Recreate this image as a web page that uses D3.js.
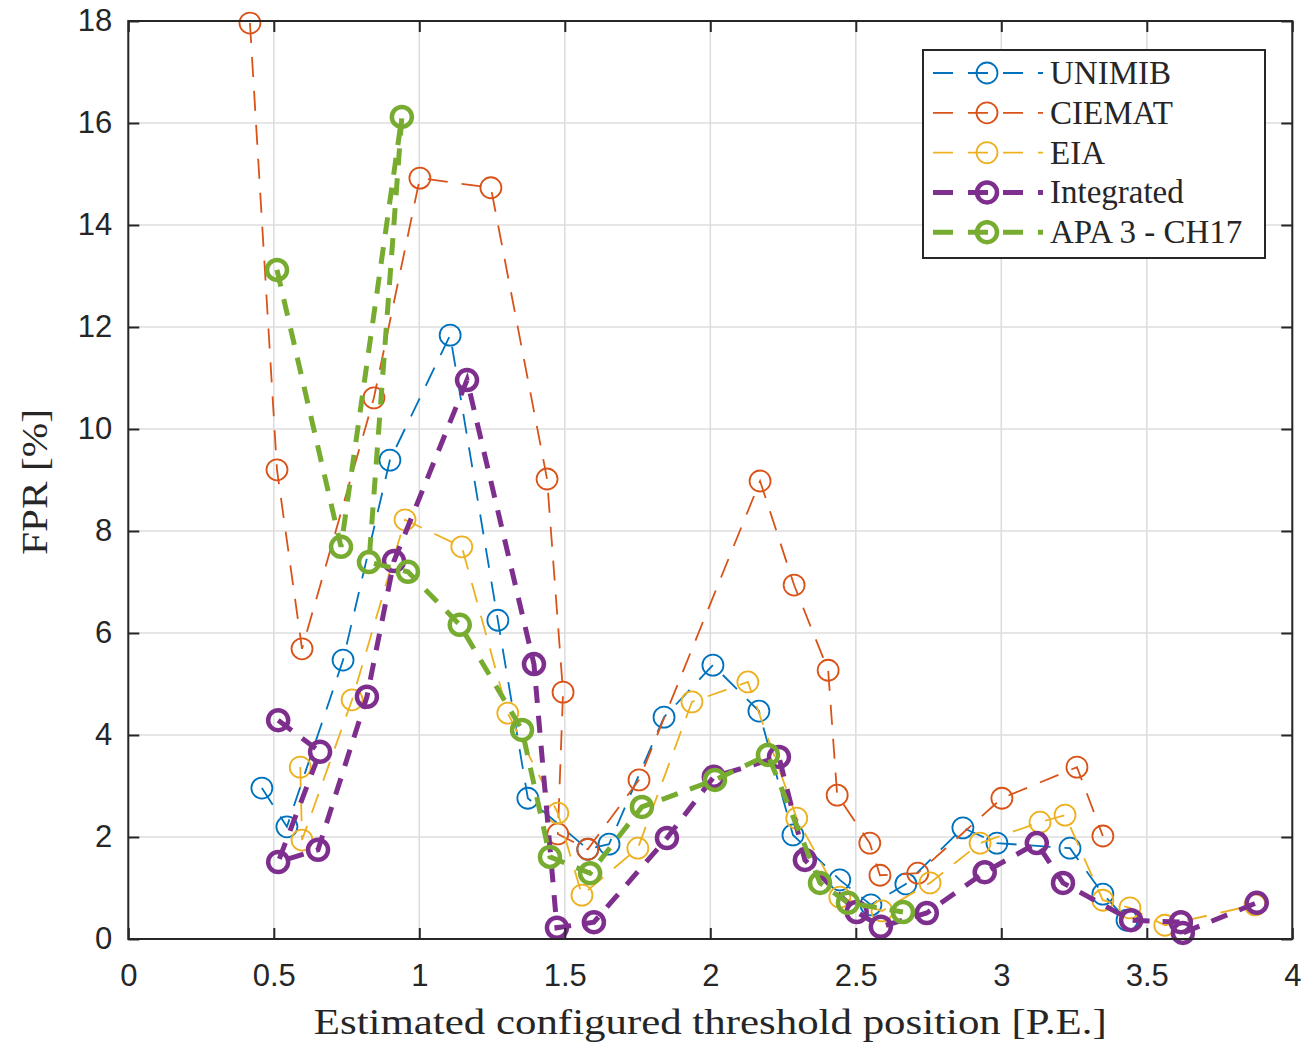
<!DOCTYPE html>
<html>
<head>
<meta charset="utf-8">
<script src="https://cdn.jsdelivr.net/npm/d3@7"></script>
<style>
  body { margin: 0; background: #fff; }
  svg { display: block; }
</style>
</head>
<body>
<div id="chart"></div>
<script>
(function() {

    // data (points kept in acquisition order, x is not monotonic)
    const unimibX = [0.459, 0.545, 0.738, 0.899, 1.106, 1.270, 1.373, 1.579, 1.652, 1.841, 2.009, 2.167, 2.284, 2.445, 2.552, 2.672, 2.868, 2.985, 3.236, 3.349, 3.432]
    const unimibY = [2.96, 2.20, 5.47, 9.39, 11.84, 6.25, 2.76, 1.76, 1.86, 4.35, 5.37, 4.47, 2.04, 1.16, 0.67, 1.08, 2.18, 1.88, 1.78, 0.88, 0.37]

    const ciematX = [0.418, 0.511, 0.597, 0.844, 1.002, 1.246, 1.439, 1.494, 1.476, 1.579, 1.755, 2.171, 2.288, 2.405, 2.436, 2.548, 2.583, 2.713, 3.002, 3.260, 3.349]
    const ciematY = [17.96, 9.20, 5.69, 10.61, 14.92, 14.73, 9.02, 4.84, 2.06, 1.76, 3.12, 8.98, 6.94, 5.27, 2.82, 1.88, 1.25, 1.29, 2.76, 3.37, 2.02]

    const eiaX = [0.591, 0.597, 0.769, 0.951, 1.146, 1.304, 1.476, 1.559, 1.751, 1.937, 2.129, 2.297, 2.445, 2.590, 2.755, 2.927, 3.133, 3.219, 3.349, 3.442, 3.562, 3.872]
    const eiaY = [3.37, 1.94, 4.69, 8.22, 7.69, 4.43, 2.47, 0.86, 1.78, 4.65, 5.04, 2.37, 0.82, 0.55, 1.10, 1.88, 2.29, 2.43, 0.76, 0.61, 0.27, 0.67]

    const integratedX = [0.515, 0.659, 0.515, 0.652, 0.820, 0.913, 1.164, 1.394, 1.473, 1.600, 1.851, 2.012, 2.236, 2.325, 2.503, 2.586, 2.744, 2.943, 3.122, 3.212, 3.446, 3.617, 3.624, 3.878]
    const integratedY = [4.29, 3.67, 1.51, 1.75, 4.75, 7.41, 10.96, 5.39, 0.22, 0.33, 1.98, 3.18, 3.57, 1.55, 0.53, 0.24, 0.51, 1.31, 1.88, 1.10, 0.37, 0.33, 0.12, 0.71]

    const apaX = [0.511, 0.731, 0.940, 0.827, 0.961, 1.139, 1.353, 1.449, 1.587, 1.765, 2.016, 2.198, 2.377, 2.473, 2.662]
    const apaY = [13.12, 7.69, 16.12, 7.39, 7.20, 6.16, 4.10, 1.61, 1.29, 2.59, 3.12, 3.61, 1.10, 0.71, 0.53]

    const xTicks = [0, 0.5, 1, 1.5, 2, 2.5, 3, 3.5, 4]
    const yTicks = [0, 2, 4, 6, 8, 10, 12, 14, 16, 18]

    const series = [
        {name: "UNIMIB", xs: unimibX, ys: unimibY, color: "#0072BD", thick: false},
        {name: "CIEMAT", xs: ciematX, ys: ciematY, color: "#D95319", thick: false},
        {name: "EIA", xs: eiaX, ys: eiaY, color: "#EDB120", thick: false},
        {name: "Integrated", xs: integratedX, ys: integratedY, color: "#7E2F8E", thick: true},
        {name: "APA 3 - CH17", xs: apaX, ys: apaY, color: "#77AC30", thick: true}
    ]

    const width = 1304, height = 1044
    const left = 128.3, right = 1292.3, top = 21, bottom = 939
    const axisColor = "#262626"

    let svg = d3.select("#chart").append("svg")
                .attr("width", width)
                .attr("height", height)

    let xScale = d3.scaleLinear().domain([0, 4]).range([left, right])
    let yScale = d3.scaleLinear().domain([0, 18]).range([bottom, top])

    // grid
    svg.append("g")
        .selectAll("line.gx")
        .data(xTicks)
        .join("line")
        .attr("x1", d => xScale(d)).attr("x2", d => xScale(d))
        .attr("y1", top).attr("y2", bottom)
        .attr("stroke", "#dedede").attr("stroke-width", 1.6)
    svg.append("g")
        .selectAll("line.gy")
        .data(yTicks)
        .join("line")
        .attr("x1", left).attr("x2", right)
        .attr("y1", d => yScale(d)).attr("y2", d => yScale(d))
        .attr("stroke", "#dedede").attr("stroke-width", 1.6)

    // series
    let line = d3.line().x(d => xScale(d[0])).y(d => yScale(d[1]))

    series.forEach(s => {
        let pts = s.xs.map((x, i) => [x, s.ys[i]])
        let g = svg.append("g")
        g.append("path")
            .attr("d", line(pts))
            .attr("fill", "none")
            .attr("stroke", s.color)
            .attr("stroke-width", s.thick ? 5 : 1.8)
            .attr("stroke-dasharray", s.thick ? "17,13" : "20,14")
        g.selectAll("circle")
            .data(pts)
            .join("circle")
            .attr("cx", d => xScale(d[0]))
            .attr("cy", d => yScale(d[1]))
            .attr("r", s.thick ? 10 : 10.5)
            .attr("fill", "none")
            .attr("stroke", s.color)
            .attr("stroke-width", s.thick ? 4.5 : 1.8)
    })

    // axes
    let xAxis = svg.append("g")
        .attr("transform", "translate(0," + bottom + ")")
        .call(d3.axisBottom(xScale).tickValues(xTicks).tickSize(-11).tickPadding(25).tickFormat(d3.format("")))
    let yAxis = svg.append("g")
        .attr("transform", "translate(" + left + ",0)")
        .call(d3.axisLeft(yScale).tickValues(yTicks).tickSize(-11).tickPadding(16))
    svg.append("g")
        .attr("transform", "translate(0," + top + ")")
        .call(d3.axisTop(xScale).tickValues(xTicks).tickSize(-11).tickFormat(""))
    svg.append("g")
        .attr("transform", "translate(" + right + ",0)")
        .call(d3.axisRight(yScale).tickValues(yTicks).tickSize(-11).tickFormat(""))

    svg.selectAll(".domain").remove()
    svg.selectAll(".tick line").attr("stroke", axisColor).attr("stroke-width", 2)
    svg.selectAll(".tick text")
        .attr("fill", axisColor)
        .style("font-family", "'Liberation Sans', Arial, sans-serif")
        .style("font-size", "31px")

    svg.append("rect")
        .attr("x", left).attr("y", top)
        .attr("width", right - left).attr("height", bottom - top)
        .attr("fill", "none").attr("stroke", axisColor).attr("stroke-width", 2)

    // axis titles
    svg.append("text")
        .attr("x", (left + right) / 2).attr("y", 1034)
        .attr("text-anchor", "middle")
        .attr("textLength", 793).attr("lengthAdjust", "spacingAndGlyphs")
        .style("font-family", "'Liberation Serif', 'Times New Roman', serif")
        .style("font-size", "35px")
        .attr("fill", axisColor)
        .text("Estimated configured threshold position [P.E.]")

    svg.append("text")
        .attr("transform", "translate(47,482) rotate(-90)")
        .attr("text-anchor", "middle")
        .attr("textLength", 146).attr("lengthAdjust", "spacingAndGlyphs")
        .style("font-family", "'Liberation Serif', 'Times New Roman', serif")
        .style("font-size", "35px")
        .attr("fill", axisColor)
        .text("FPR [%]")

    // legend
    let legend = svg.append("g")
    legend.append("rect")
        .attr("x", 923).attr("y", 50)
        .attr("width", 342).attr("height", 208)
        .attr("fill", "#fff").attr("stroke", axisColor).attr("stroke-width", 2)

    series.forEach((s, i) => {
        let cy = 73 + i * 39.8
        legend.append("line")
            .attr("x1", 933).attr("x2", 1043)
            .attr("y1", cy).attr("y2", cy)
            .attr("stroke", s.color)
            .attr("stroke-width", s.thick ? 5 : 1.8)
            .attr("stroke-dasharray", "20,15")
        legend.append("circle")
            .attr("cx", 987).attr("cy", cy)
            .attr("r", s.thick ? 10 : 10.5)
            .attr("fill", "none")
            .attr("stroke", s.color)
            .attr("stroke-width", s.thick ? 4.5 : 1.8)
        legend.append("text")
            .attr("x", 1050).attr("y", cy + 11)
            .style("font-family", "'Liberation Serif', 'Times New Roman', serif")
            .style("font-size", "33px")
            .attr("fill", axisColor)
            .text(s.name)
    })

})();
</script>
</body>
</html>
